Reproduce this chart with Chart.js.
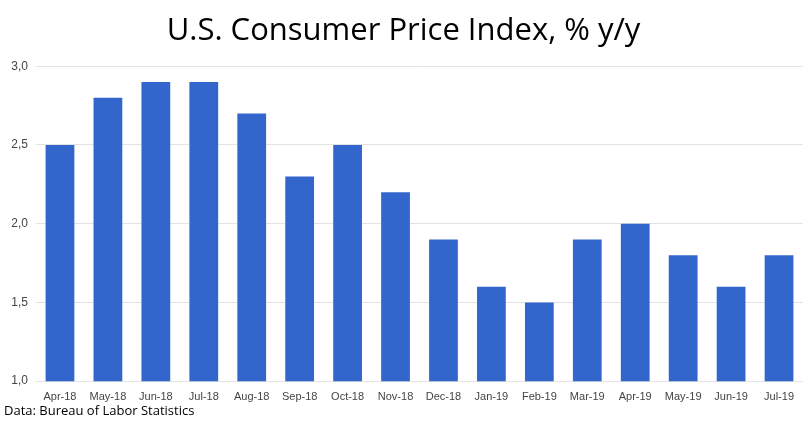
<!DOCTYPE html>
<html>
<head>
<meta charset="utf-8">
<script src="https://cdn.jsdelivr.net/npm/chart.js"></script>
<style>
  html, body { margin: 0; padding: 0; background: #fff; }
  #wrap { width: 810px; height: 421px; }
</style>
</head>
<body>
<div id="wrap"><canvas id="cpiChart" width="810" height="421"></canvas></div>
<script>
// months on the x axis
const months = [
  "Apr-18", "May-18", "Jun-18", "Jul-18", "Aug-18", "Sep-18", "Oct-18", "Nov-18",
  "Dec-18", "Jan-19", "Feb-19", "Mar-19", "Apr-19", "May-19", "Jun-19", "Jul-19"
];
// CPI, % y/y
const cpiYoY = [2.5, 2.8, 2.9, 2.9, 2.7, 2.3, 2.5, 2.2, 1.9, 1.6, 1.5, 1.9, 2.0, 1.8, 1.6, 1.8];
const yTicks = [1.0, 1.5, 2.0, 2.5, 3.0];

const chartTitle = "U.S. Consumer Price Index, % y/y";
const sourceNote = "Data: Bureau of Labor Statistics";

const ctx = document.getElementById("cpiChart").getContext("2d");
new Chart(ctx, {
  type: "bar",
  data: {
    labels: months,
    datasets: [{
      label: "CPI % y/y",
      data: cpiYoY,
      backgroundColor: "#3366cc",
      borderWidth: 0,
      categoryPercentage: 0.6,
      barPercentage: 1.0
    }]
  },
  options: {
    responsive: false,
    animation: false,
    devicePixelRatio: 1,
    layout: { padding: { left: 4, right: 7, top: 0, bottom: 0 } },
    plugins: {
      legend: { display: false },
      tooltip: { enabled: false },
      title: {
        display: true,
        text: chartTitle,
        color: "#000",
        font: { family: "'Open Sans', 'Noto Sans', sans-serif", size: 31, weight: "normal" },
        padding: { top: 13, bottom: 16 }
      },
      subtitle: {
        display: true,
        text: sourceNote,
        position: "bottom",
        align: "start",
        color: "#000",
        font: { family: "'Open Sans', 'Noto Sans', sans-serif", size: 13, weight: "normal", lineHeight: 1.05 },
        padding: { top: 0, bottom: 3 }
      }
    },
    scales: {
      x: {
        grid: { display: false },
        border: { display: false },
        ticks: {
          color: "#444",
          font: { family: "'Liberation Sans', Arial, sans-serif", size: 11 },
          maxRotation: 0,
          autoSkip: false,
          padding: 1
        }
      },
      y: {
        min: 1.0,
        max: 3.0,
        afterBuildTicks: (scale) => { scale.ticks = yTicks.map(v => ({ value: v })); },
        afterFit: (scale) => { scale.width = 32; },
        grid: { color: "#e3e3e3", lineWidth: 1, drawTicks: false },
        border: { display: false },
        ticks: {
          color: "#444",
          font: { family: "'Liberation Sans', Arial, sans-serif", size: 12 },
          padding: 8,
          callback: (v) => Number(v).toFixed(1).replace(".", ",")
        }
      }
    }
  }
});
</script>
</body>
</html>
